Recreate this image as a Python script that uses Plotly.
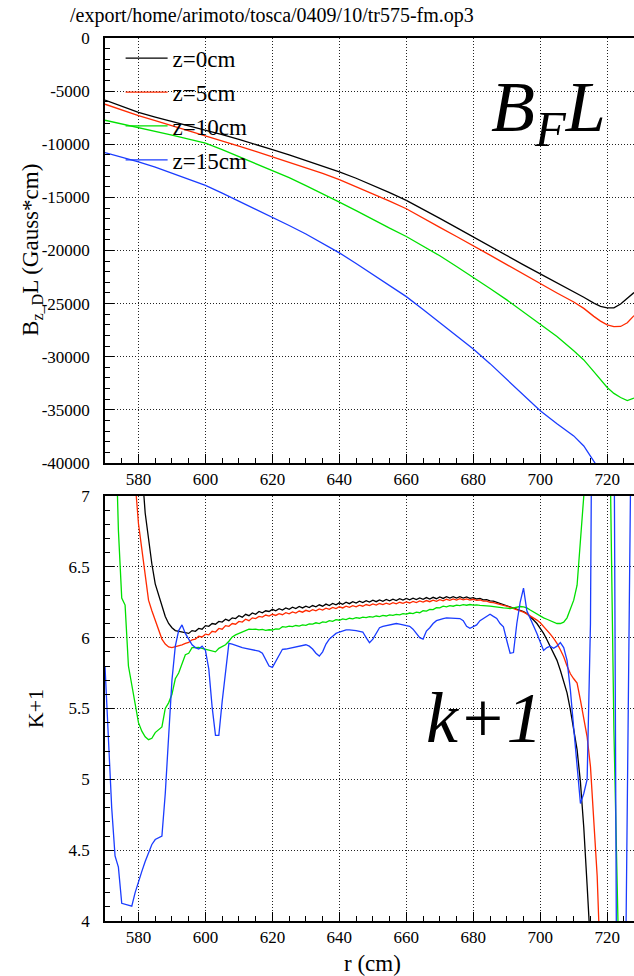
import plotly.graph_objects as go

# ---------------- data ----------------
r_top = [570, 575, 580, 585, 590, 595, 600, 605, 610, 615, 620, 625, 630, 635, 640, 645, 650,
         655, 660, 665, 670, 675, 680, 685, 690, 695, 700, 705, 710, 713, 716, 718, 720, 722,
         724, 726, 728]

bl_z0 = [-5850, -6450, -7000, -7450, -7850, -8250, -8650, -9100, -9550, -10000, -10500, -11000,
         -11520, -12050, -12610, -13200, -13850, -14550, -15280, -16100, -16980, -17850, -18740,
         -19600, -20470, -21350, -22200, -23050, -23850, -24400, -24950, -25250, -25400, -25400,
         -25030, -24500, -23960]
bl_z5 = [-6230, -6800, -7300, -7780, -8250, -8750, -9200, -9700, -10180, -10680, -11190, -11680,
         -12180, -12740, -13330, -13980, -14650, -15350, -16070, -16990, -17830, -18680, -19530,
         -20430, -21330, -22230, -23140, -24000, -24850, -25450, -26200, -26650, -27000, -27170,
         -27150, -26800, -26130]
bl_z10 = [-7740, -8080, -8430, -8790, -9150, -9520, -9900, -10500, -11150, -11800, -12450, -13150,
          -13900, -14650, -15450, -16250, -17100, -17900, -18680, -19580, -20500, -21500, -22520,
          -23580, -24650, -25780, -26920, -28100, -29430, -30300, -31400, -32100, -32890, -33450,
          -33840, -34120, -33900]
bl_z15 = [-10780, -11200, -11650, -12150, -12700, -13270, -13870, -14600, -15350, -16100, -16900,
          -17650, -18450, -19320, -20220, -21220, -22250, -23300, -24340, -25550, -26800, -28050,
          -29280, -30650, -32100, -33600, -35090, -36300, -37450, -38400, -39900, -40800, -41700,
          -42500, -43300, -44000, -44700]

r_k_z0 = list(range(578, 717))
k_z0 = [8.60, 8.10, 7.60, 7.20, 6.88, 6.69, 6.52, 6.38, 6.30, 6.22,
        6.15, 6.10, 6.07, 6.05, 6.045, 6.04, 6.035, 6.03, 6.05, 6.045,
        6.065, 6.06, 6.085, 6.08, 6.10, 6.095, 6.115, 6.11, 6.13, 6.12,
        6.14, 6.135, 6.155, 6.145, 6.165, 6.155, 6.175, 6.165, 6.185, 6.175,
        6.19, 6.185, 6.20, 6.19, 6.205, 6.195, 6.21, 6.20, 6.215, 6.205,
        6.22, 6.21, 6.222, 6.213, 6.227, 6.218, 6.232, 6.222, 6.237, 6.227,
        6.242, 6.232, 6.246, 6.236, 6.25, 6.24, 6.254, 6.244, 6.258, 6.248,
        6.261, 6.251, 6.264, 6.254, 6.267, 6.257, 6.27, 6.26, 6.272, 6.262,
        6.275, 6.265, 6.277, 6.267, 6.279, 6.269, 6.281, 6.271, 6.283, 6.273,
        6.285, 6.275, 6.287, 6.277, 6.289, 6.279, 6.29, 6.28, 6.29, 6.28,
        6.288, 6.278, 6.283, 6.273, 6.277, 6.267, 6.268, 6.26, 6.258, 6.25,
        6.245, 6.237, 6.23, 6.222, 6.212, 6.205, 6.195, 6.185, 6.17, 6.15,
        6.125, 6.10, 6.066, 6.03, 5.985, 5.94, 5.89, 5.84, 5.77, 5.69,
        5.61, 5.49, 5.35, 5.21, 4.98, 4.66, 4.25, 3.85, 3.40]

r_k_z5 = list(range(576, 720))
k_z5 = [8.8, 8.2, 7.6, 7.1, 6.805, 6.62, 6.43, 6.265, 6.19, 6.12,
        6.054, 5.99, 5.955, 5.935, 5.93, 5.935, 5.94, 5.95, 5.96, 5.967,
        5.985, 5.99, 6.01, 6.005, 6.025, 6.02, 6.045, 6.04, 6.065, 6.06,
        6.085, 6.08, 6.10, 6.095, 6.115, 6.11, 6.13, 6.12, 6.14, 6.135,
        6.15, 6.145, 6.16, 6.152, 6.165, 6.157, 6.17, 6.162, 6.176, 6.168,
        6.182, 6.174, 6.188, 6.18, 6.193, 6.185, 6.198, 6.19, 6.203, 6.195,
        6.208, 6.20, 6.213, 6.205, 6.218, 6.21, 6.222, 6.214, 6.226, 6.218,
        6.23, 6.222, 6.234, 6.226, 6.238, 6.23, 6.241, 6.233, 6.244, 6.236,
        6.247, 6.239, 6.25, 6.242, 6.253, 6.245, 6.256, 6.248, 6.259, 6.251,
        6.262, 6.254, 6.265, 6.257, 6.268, 6.26, 6.271, 6.263, 6.274, 6.266,
        6.275, 6.267, 6.274, 6.266, 6.271, 6.263, 6.266, 6.258, 6.258, 6.25,
        6.248, 6.24, 6.236, 6.228, 6.222, 6.214, 6.205, 6.198, 6.19, 6.18,
        6.168, 6.155, 6.14, 6.124, 6.105, 6.08, 6.055, 6.025, 5.995, 5.96,
        5.915, 5.865, 5.80, 5.745, 5.71, 5.68, 5.56, 5.42, 5.30, 5.09,
        4.66, 4.32, 3.65, 3.10]

r_k_z10 = list(range(572, 715)) + [716, 718, 720, 721, 722, 723, 725, 728]
k_z10 = [8.5, 7.6, 6.76, 6.28, 6.23, 5.80, 5.66, 5.52, 5.40, 5.34,
         5.30, 5.28, 5.29, 5.33, 5.35, 5.37, 5.50, 5.54, 5.60, 5.71,
         5.75, 5.81, 5.88, 5.89, 5.93, 5.93, 5.932, 5.925, 5.92, 5.915,
         5.91, 5.90, 5.925, 5.94, 5.95, 5.975, 6.005, 6.02, 6.03, 6.045,
         6.05, 6.06, 6.058, 6.06, 6.055, 6.058, 6.052, 6.056, 6.054, 6.062,
         6.06, 6.078, 6.074, 6.082, 6.078, 6.086, 6.082, 6.09, 6.087, 6.097,
         6.095, 6.105, 6.10, 6.112, 6.108, 6.12, 6.115, 6.127, 6.123, 6.132,
         6.128, 6.137, 6.133, 6.141, 6.137, 6.145, 6.141, 6.149, 6.145, 6.153,
         6.149, 6.157, 6.153, 6.161, 6.157, 6.165, 6.161, 6.17, 6.166, 6.174,
         6.17, 6.18, 6.176, 6.19, 6.188, 6.2, 6.198, 6.212, 6.21, 6.222,
         6.218, 6.226, 6.222, 6.23, 6.226, 6.233, 6.229, 6.234, 6.23, 6.232,
         6.228, 6.228, 6.224, 6.222, 6.218, 6.216, 6.212, 6.21, 6.208, 6.205,
         6.21, 6.215, 6.22, 6.218, 6.21, 6.195, 6.18, 6.165, 6.155, 6.14,
         6.13, 6.12, 6.11, 6.10, 6.10, 6.11, 6.14, 6.20, 6.265, 6.37,
         6.69, 7.0, 8.0,
         11.0, 14.0, 10.5, 7.05, 5.35, 3.6, 2.0, 1.5]

r_k_z15 = list(range(570, 729))
k_z15 = [5.80, 5.30, 4.80, 4.46, 4.38, 4.125, 4.12, 4.11, 4.105, 4.20,
         4.28, 4.35, 4.42, 4.48, 4.54, 4.575, 4.59, 4.60, 4.90, 5.26,
         5.70, 5.94, 6.05, 6.09, 6.03, 5.99, 5.95, 5.93, 5.92, 5.94,
         5.91, 5.78, 5.51, 5.31, 5.31, 5.55, 5.76, 5.96, 5.955, 5.945,
         5.94, 5.93, 5.925, 5.92, 5.918, 5.913, 5.905, 5.89, 5.845, 5.80,
         5.79, 5.83, 5.88, 5.918, 5.92, 5.925, 5.93, 5.935, 5.94, 5.948,
         5.95, 5.94, 5.92, 5.89, 5.87, 5.90, 5.955, 5.99, 6.01, 6.03,
         6.04, 6.05, 6.055, 6.055, 6.055, 6.05, 6.045, 6.04, 6.0, 5.965,
         5.99, 6.03, 6.07, 6.08, 6.085, 6.09, 6.095, 6.10, 6.095, 6.09,
         6.085, 6.08, 6.06, 6.03, 6.0, 5.99, 6.047, 6.07, 6.10, 6.12,
         6.13, 6.135, 6.14, 6.14, 6.14, 6.14, 6.135, 6.12, 6.08, 6.066,
         6.08, 6.09, 6.12, 6.136, 6.155, 6.165, 6.15, 6.136, 6.10, 6.077,
         5.98, 5.89, 5.895, 6.10, 6.25, 6.35, 6.19, 6.14, 6.09, 6.03,
         5.97, 5.91, 5.93, 5.94, 5.925, 5.94, 5.965, 5.93, 5.84, 5.63,
         5.36, 5.10, 4.83, 4.90, 5.00, 6.10, 7.8, 12.0, 20.0, 25.0,
         25.0, 15.0, 7.8, 2.5, 1.5, 2.5, 5.0, 7.4, 9.5]

names = ["z=0cm", "z=5cm", "z=10cm", "z=15cm"]
colors = ["#000000", "#ff2a00", "#00e000", "#1a3cff"]

x_ticks = [580, 600, 620, 640, 660, 680, 700, 720]
x_ticktext = ["580", "600", "620", "640", "660", "680", "700", "720"]
top_ticks = [0, -5000, -10000, -15000, -20000, -25000, -30000, -35000, -40000]
top_ticktext = ["0", "-5000", "-10000", "-15000", "-20000", "-25000", "-30000", "-35000", "-40000"]
bot_ticks = [7, 6.5, 6, 5.5, 5, 4.5, 4]
bot_ticktext = ["7", "6.5", "6", "5.5", "5", "4.5", "4"]

title_text = "/export/home/arimoto/tosca/0409/10/tr575-fm.op3"

# ---------------- figure ----------------
FONT = "Liberation Serif"
fig = go.Figure()

top_series = [bl_z0, bl_z5, bl_z10, bl_z15]
for i in range(4):
    fig.add_trace(go.Scatter(x=r_top, y=top_series[i], mode="lines", name=names[i],
                             legendgroup=names[i],
                             line=dict(color=colors[i], width=1.3),
                             xaxis="x", yaxis="y", showlegend=True))

bot_x = [r_k_z0, r_k_z5, r_k_z10, r_k_z15]
bot_y = [k_z0, k_z5, k_z10, k_z15]
for i in range(4):
    fig.add_trace(go.Scatter(x=bot_x[i], y=bot_y[i], mode="lines", name=names[i],
                             legendgroup=names[i],
                             line=dict(color=colors[i], width=1.3),
                             xaxis="x2", yaxis="y2", showlegend=False))

grid = dict(showgrid=True, gridcolor="#222222", griddash="1px,2px", gridwidth=1,
            zeroline=False, showline=True, linecolor="black", linewidth=1.5,
            mirror=True, ticks="inside", ticklen=9, tickcolor="black", tickwidth=1,
            automargin=False,
            tickfont=dict(family=FONT, size=17, color="black"))

fig.update_layout(
    width=634, height=976, autosize=False,
    margin=dict(l=105, r=0, t=38, b=55, autoexpand=False),
    paper_bgcolor="white", plot_bgcolor="white",
    font=dict(family=FONT, color="black"),
    xaxis=dict(domain=[0, 1], anchor="y", range=[570, 728], tickmode="array",
               tickvals=x_ticks, ticktext=x_ticktext,
               minor=dict(dtick=5, tick0=0, ticks="inside", ticklen=5, tickcolor="black",
                          showgrid=False),
               **grid),
    yaxis=dict(domain=[0.5187, 1], anchor="x", range=[-40000, 0], tickmode="array",
               tickvals=top_ticks, ticktext=top_ticktext, ticklabelstandoff=10,
               minor=dict(dtick=1000, tick0=0, ticks="inside", ticklen=5, tickcolor="black",
                          showgrid=False),
               **grid),
    xaxis2=dict(domain=[0, 1], anchor="y2", range=[570, 728], tickmode="array",
                tickvals=x_ticks, ticktext=x_ticktext,
                minor=dict(dtick=5, tick0=0, ticks="inside", ticklen=5, tickcolor="black",
                           showgrid=False),
                **grid),
    yaxis2=dict(domain=[0, 0.4813], anchor="x2", range=[4, 7], tickmode="array",
                tickvals=bot_ticks, ticktext=bot_ticktext, ticklabelstandoff=10,
                minor=dict(dtick=0.1, tick0=0, ticks="inside", ticklen=5, tickcolor="black",
                           showgrid=False),
                **grid),
    legend=dict(x=0.0295, y=1.0015, xref="paper", yref="paper", xanchor="left", yanchor="top",
                bgcolor="rgba(0,0,0,0)", borderwidth=0, tracegroupgap=1, itemwidth=42,
                font=dict(family=FONT, size=23, color="black")),
    showlegend=True,
)

fig.add_annotation(text=title_text, xref="paper", yref="paper", x=0.3157, y=1.026,
                   xanchor="center", yanchor="middle", showarrow=False,
                   font=dict(family=FONT, size=20, color="black"))
fig.add_annotation(text="B<sub>z_D</sub>L (Gauss*cm)", xref="paper", yref="paper",
                   x=-0.138, y=0.760, textangle=-90, xanchor="center", yanchor="middle",
                   showarrow=False, font=dict(family=FONT, size=23, color="black"))
fig.add_annotation(text="K+1", xref="paper", yref="paper", x=-0.132, y=0.240, textangle=-90,
                   xanchor="center", yanchor="middle", showarrow=False,
                   font=dict(family=FONT, size=22, color="black"))
fig.add_annotation(text="r (cm)", xref="paper", yref="paper", x=0.505, y=-0.0476,
                   xanchor="center", yanchor="middle", showarrow=False,
                   font=dict(family=FONT, size=23, color="black"))
fig.add_annotation(text="<i>B<sub>F</sub>L</i>", xref="x", yref="y", x=702.5, y=-6950,
                   xanchor="center", yanchor="middle", showarrow=False,
                   font=dict(family=FONT, size=72, color="black"))
fig.add_annotation(text="<i>k+1</i>", xref="x2", yref="y2", x=683.4, y=5.43,
                   xanchor="center", yanchor="middle", showarrow=False,
                   font=dict(family=FONT, size=72, color="black"))

fig.write_html("out.html", config={"displayModeBar": False},
               post_script="document.body.style.margin='0';"
                           "document.body.style.overflow='hidden';")
